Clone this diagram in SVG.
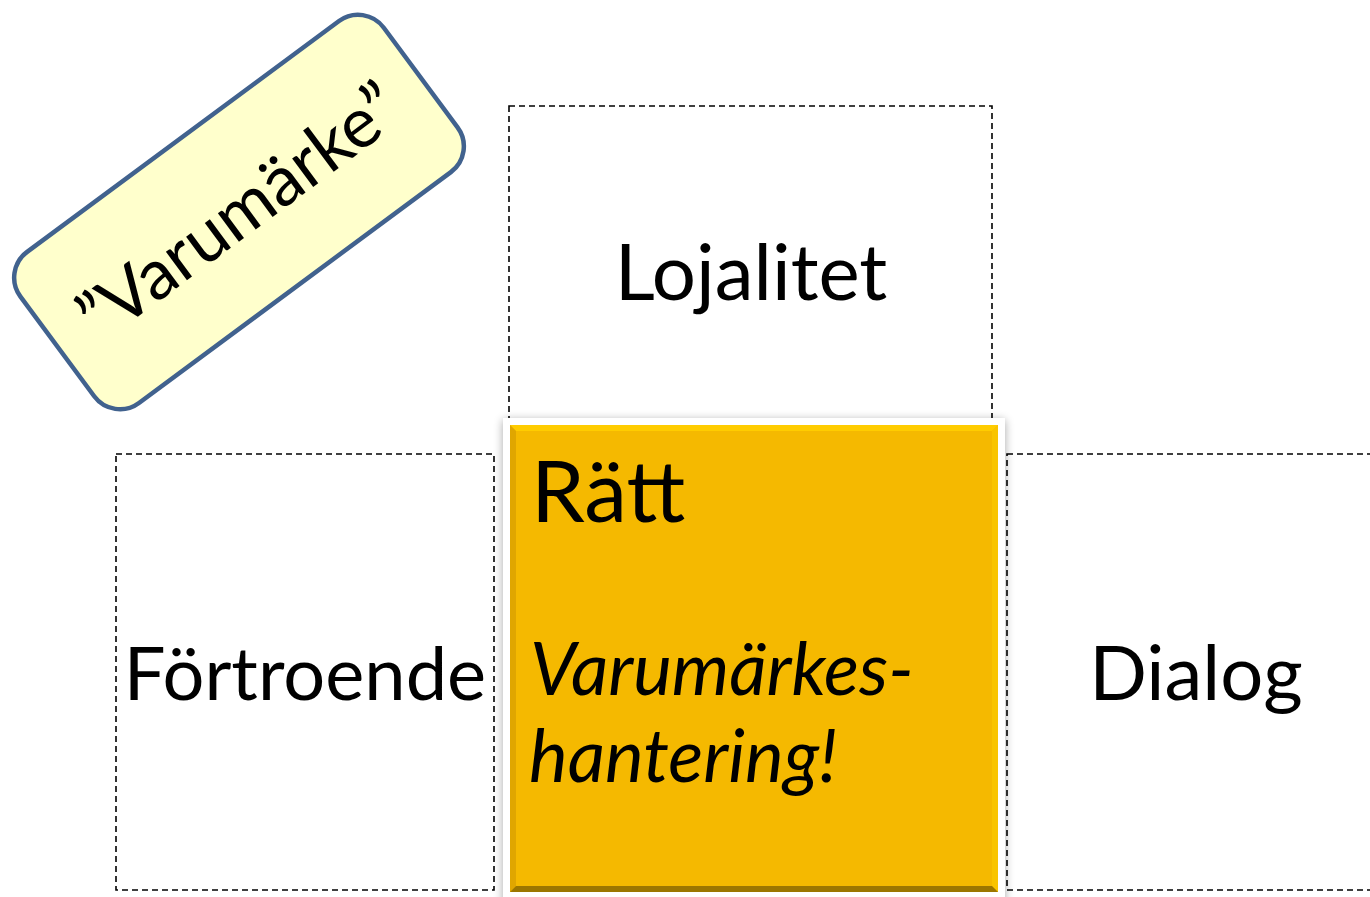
<svg xmlns="http://www.w3.org/2000/svg" width="1370" height="897" viewBox="0 0 1370 897">
  <style>
    .zone { fill: none; stroke: #000; stroke-width: 1.6; stroke-dasharray: 6 4; }
    .lbl { font-family: Lato, "Open Sans", "Liberation Sans", sans-serif; fill: #000; }
    .big { font-size: 76px; }
  </style>
  <defs>
    <filter id="shadow" x="-10%" y="-10%" width="120%" height="120%">
      <feGaussianBlur in="SourceAlpha" stdDeviation="5"/>
      <feOffset dx="0" dy="2"/>
      <feComponentTransfer><feFuncA type="linear" slope="0.35"/></feComponentTransfer>
      <feMerge><feMergeNode/><feMergeNode in="SourceGraphic"/></feMerge>
    </filter>
  </defs>
  <rect width="1370" height="897" fill="#fff"/>

  <g id="lojalitet">
    <rect class="zone" x="509" y="106" width="483" height="330"/>
    <text class="lbl" x="751" y="300" font-size="78" text-anchor="middle">Lojalitet</text>
  </g>

  <g id="fortroende">
    <rect class="zone" x="116" y="454" width="378" height="436"/>
    <text class="lbl" x="305" y="700" font-size="74" text-anchor="middle">Förtroende</text>
  </g>

  <g id="dialog">
    <rect class="zone" x="1007" y="454" width="400" height="436"/>
    <text class="lbl big" x="1196" y="700" text-anchor="middle">Dialog</text>
  </g>

  <g id="ratt">
    <rect x="503" y="418" width="502" height="490" fill="#fff" filter="url(#shadow)"/>
    <rect x="510" y="425" width="488" height="467" fill="#F5B900"/>
    <!-- bevel edges -->
    <polygon points="510,425 998,425 992,431 516,431" fill="#FFCC00"/>
    <polygon points="510,425 516,431 516,886 510,892" fill="#E0A600"/>
    <polygon points="998,425 998,892 992,886 992,431" fill="#F9C400"/>
    <polygon points="510,892 516,886 992,886 998,892" fill="#9C7600"/>
    <text class="lbl" x="531" y="522" font-size="86">Rätt</text>
    <text class="lbl" x="530" y="695" font-size="73" font-style="italic">Varumärkes-</text>
    <text class="lbl" x="529" y="782" font-size="73" font-style="italic">hantering!</text>
  </g>

  <g id="varumarke" transform="translate(239 212) rotate(-36.5)">
    <rect x="-226" y="-94" width="452" height="188" rx="32" fill="#FFFFCC" stroke="#41628E" stroke-width="4.5"/>
    <text class="lbl" x="0" y="24" font-size="70" text-anchor="middle">”Varumärke”</text>
  </g>

  <g id="connectors"/>
</svg>
